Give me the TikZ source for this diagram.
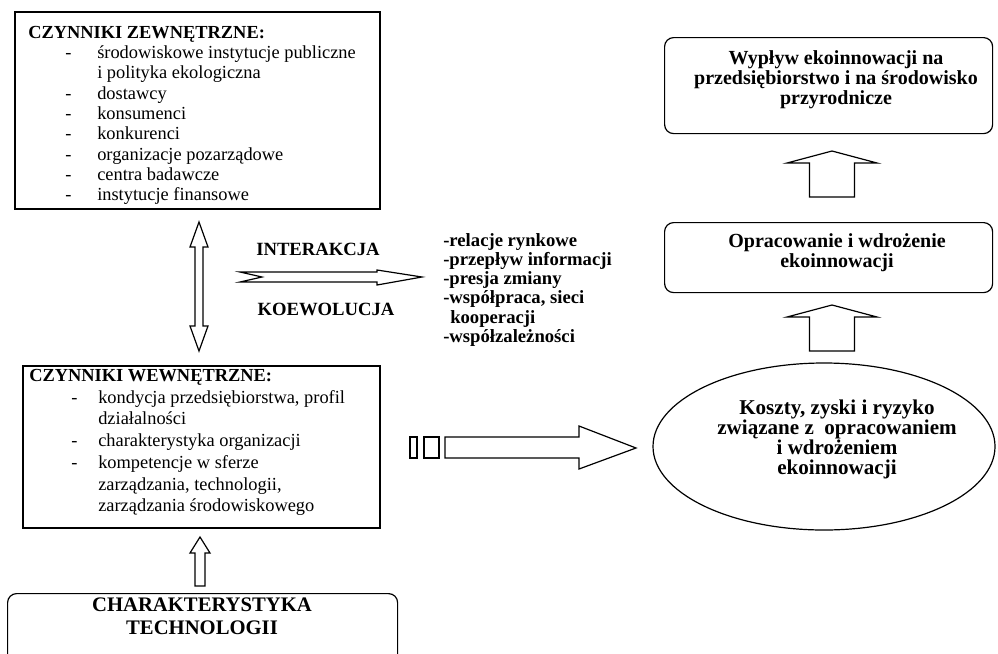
\documentclass[tikz,border=0pt]{standalone}
\usepackage{fontspec}
\setmainfont{Liberation Serif}
\usetikzlibrary{shapes.geometric, positioning}

\newdimen\pxu \pxu=0.75pt
\newcommand{\dsh}[1][37]{\makebox[69\pxu][l]{\hspace*{#1\pxu}-}}
\newcommand{\ind}{\hspace*{69\pxu}}
\newcommand{\tightlines}{\lineskiplimit=-20pt\relax}
% up-pointing block arrow: x, tip, head base, bottom, head half width, shaft half width
\newcommand{\uparrowblk}[6]{%
	\draw[blk] (#1,#2) -- (#1+#5,#3) -- (#1+#6,#3) -- (#1+#6,#4) -- (#1-#6,#4) -- (#1-#6,#3) -- (#1-#5,#3) -- cycle;}

\tikzset{
	frame/.style={draw, line width=1.3pt, inner sep=0pt},
	rframe/.style={draw, line width=0.9pt, rounded corners=9\pxu, inner sep=0pt},
	blk/.style={draw, line width=0.9pt, line join=miter},
	lst/.style={inner sep=0pt, anchor=north west, align=left},
	bld/.style={inner sep=0pt, align=center, font=\bfseries\fontsize{15}{15}\selectfont\tightlines},
}

\begin{document}
\begin{tikzpicture}[x=0.75pt, y=-0.75pt]
	\clip (0,0) rectangle (998,653);

	% left column
	\node[frame, anchor=north west, minimum width=365\pxu, minimum height=197\pxu] (ext) at (14,11) {};
	\node[lst, font=\fontsize{13.8}{15.2}\selectfont] (extlist) at (28,26) {\textbf{CZYNNIKI ZEWNĘTRZNE:}\\
		\dsh środowiskowe instytucje publiczne\\
		\ind i polityka ekologiczna\\
		\dsh dostawcy\\
		\dsh konsumenci\\
		\dsh konkurenci\\
		\dsh organizacje pozarządowe\\
		\dsh centra badawcze\\
		\dsh instytucje finansowe};

	\node[frame, anchor=north west, minimum width=357\pxu, minimum height=162\pxu] (int) at (22,365) {};
	\node[lst, font=\fontsize{13.8}{16.3}\selectfont] (intlist) at (29,369) {\textbf{CZYNNIKI WEWNĘTRZNE:}\\
		\dsh[42]kondycja przedsiębiorstwa, profil\\
		\ind działalności\\
		\dsh[42]charakterystyka organizacji\\
		\dsh[42]kompetencje w sferze\\
		\ind zarządzania, technologii,\\
		\ind zarządzania środowiskowego};

	\node[rframe, anchor=north west, minimum width=390\pxu, minimum height=100\pxu] (tech) at (7,593) {};
	\node[bld, font=\bfseries\fontsize{15.5}{17}\selectfont] (techtxt) at (202,616) {CHARAKTERYSTYKA\\TECHNOLOGII};

	% middle
	\node[bld, font=\bfseries\fontsize{14}{15}\selectfont] (interakcja) at (318,249) {INTERAKCJA};
	\node[bld, font=\bfseries\fontsize{14}{15}\selectfont] (koewolucja) at (326,309) {KOEWOLUCJA};
	\node[lst, font=\bfseries\fontsize{14}{14.4}\selectfont\tightlines] (relacje) at (443,233) {-relacje rynkowe\\
		-przepływ informacji\\
		-presja zmiany\\
		-współpraca, sieci\\
		\hspace*{7\pxu}kooperacji\\
		-współzależności};

	% right column
	\node[rframe, anchor=north west, minimum width=328\pxu, minimum height=96\pxu] (impact) at (664,37) {};
	\node[bld] (impacttxt) at (836,80) {Wypływ ekoinnowacji na\\przedsiębiorstwo i na środowisko\\przyrodnicze};

	\node[rframe, anchor=north west, minimum width=328\pxu, minimum height=70\pxu] (impl) at (664,222) {};
	\node[bld] (impltxt) at (837,253) {Opracowanie i wdrożenie\\ekoinnowacji};

	\node[draw, ellipse, line width=0.9pt, minimum width=342\pxu, minimum height=167\pxu] (cost) at (824,446.5) {};
	\node[bld, font=\bfseries\fontsize{15.8}{15}\selectfont\tightlines] (costtxt) at (837,439) {Koszty, zyski i ryzyko\\związane z\ \ opracowaniem\\i wdrożeniem\\ekoinnowacji};

	% block arrows
	\draw[blk] (199,222) -- (208,247) -- (203,247) -- (203,326) -- (208,326) -- (199,351)
		-- (190,326) -- (195,326) -- (195,247) -- (190,247) -- cycle;
	\draw[blk] (240,272) -- (377,272) -- (377,270) -- (422,277) -- (377,285) -- (377,282)
		-- (240,282) -- (262,277) -- cycle;
	\uparrowblk{200}{537}{553}{586}{10}{5}
	\uparrowblk{832}{151}{163}{197}{45}{22.5}
	\uparrowblk{832}{305}{317}{351}{45}{22.5}

	\draw[blk] (410,437) rectangle (417,458);
	\draw[blk] (424,437) rectangle (439,458);
	\draw[blk] (445,437) -- (579,437) -- (579,426) -- (636,448) -- (579,469) -- (579,458) -- (445,458) -- cycle;
\end{tikzpicture}
\end{document}
